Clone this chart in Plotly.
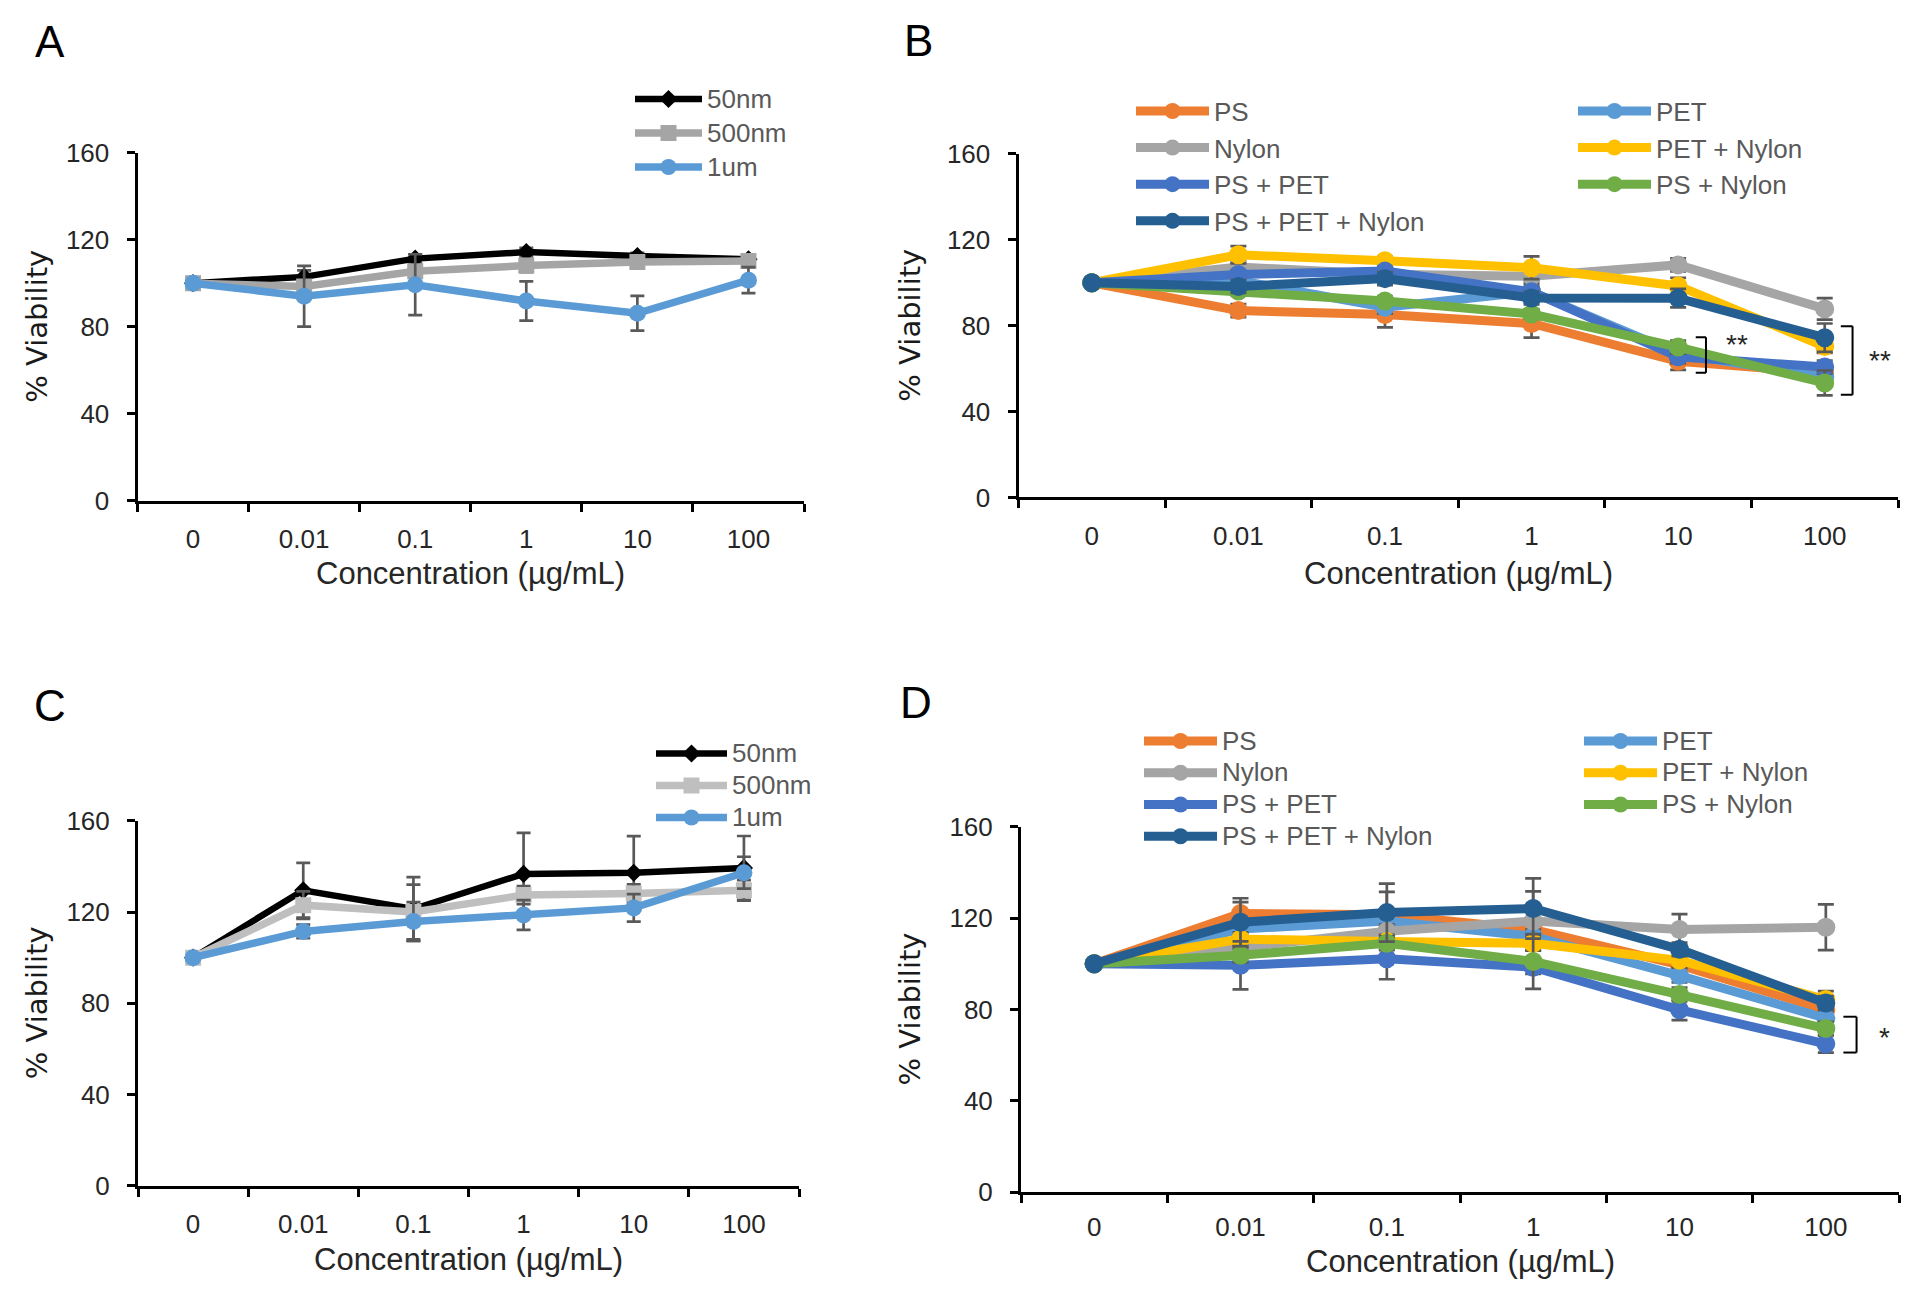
import plotly.graph_objects as go

# ---------------- data ----------------
categories = ["0", "0.01", "0.1", "1", "10", "100"]
y_ticks = [0, 40, 80, 120, 160]

size_names = ["50nm", "500nm", "1um"]

# Panel A
a_50nm = [100, 102.9, 111.3, 114.3, 112.5, 111.0]
a_50nm_err = [0, 3, 2, 2, 1.5, 1]
a_500nm = [100, 98.5, 105.5, 108.1, 109.8, 110.2]
a_500nm_err = [0, 2, 2, 3, 2, 2]
a_1um = [100, 94.0, 99.3, 91.8, 86.2, 101.4]
a_1um_err = [0, 14, 14, 9, 8, 6]

# Panel C
c_50nm = [100, 129.5, 121.3, 136.7, 137.2, 139.3]
c_50nm_err = [0, 12, 14, 18, 16, 14]
c_500nm = [100, 123.0, 120.0, 127.4, 128.1, 129.5]
c_500nm_err = [0, 6, 12, 4, 4, 4.5]
c_1um = [100, 111.5, 115.8, 118.7, 121.8, 137.2]
c_1um_err = [0, 3, 8.5, 6.5, 6, 7]

plastic_names = ["PS", "PET", "Nylon", "PET + Nylon", "PS + PET", "PS + Nylon", "PS + PET + Nylon"]

# Panel B
b_ps = [100, 87.0, 85.2, 81.0, 63.4, 58.0]
b_ps_err = [0, 3, 6, 6.6, 4, 3]
b_pet = [100, 101.0, 88.6, 95.8, 67.0, 56.0]
b_pet_err = [0, 3, 3, 3, 3, 3]
b_nylon = [100, 107.3, 104.0, 103.0, 108.3, 87.8]
b_nylon_err = [0, 3, 3, 3, 3, 5]
b_pet_nylon = [100, 113.0, 110.2, 107.0, 98.5, 70.3]
b_pet_nylon_err = [0, 4, 2, 5.3, 3.8, 3]
b_ps_pet = [100, 103.8, 105.4, 95.8, 65.5, 60.7]
b_ps_pet_err = [0, 2, 2, 2, 3, 3]
b_ps_nylon = [100, 96.1, 91.5, 85.4, 70.0, 53.3]
b_ps_nylon_err = [0, 2, 2, 2, 3, 5.8]
b_all = [100, 98.2, 101.9, 92.9, 92.8, 74.4]
b_all_err = [0, 3, 3, 3, 4.3, 6.6]

# Panel D
d_ps = [100, 122.0, 121.5, 115.0, 99.5, 79.8]
d_ps_err = [0, 5, 10, 4, 3, 3]
d_pet = [100, 115.2, 118.7, 112.0, 94.8, 76.1]
d_pet_err = [0, 3, 3, 3, 3, 3]
d_nylon = [100, 107.5, 114.2, 118.7, 115.0, 116.0]
d_nylon_err = [0, 3, 3, 13, 6.7, 10]
d_pet_nylon = [100, 110.8, 109.7, 109.0, 101.5, 84.3]
d_pet_nylon_err = [0, 3, 3, 3, 3, 3.7]
d_ps_pet = [100, 99.3, 102.2, 98.5, 79.8, 64.9]
d_ps_pet_err = [0, 10.5, 9, 3, 4.5, 3.8]
d_ps_nylon = [100, 103.7, 109.0, 101.0, 86.5, 71.6]
d_ps_nylon_err = [0, 3, 3, 12, 3, 3]
d_all = [100, 118.2, 122.4, 124.2, 106.3, 82.8]
d_all_err = [0, 10.5, 12.7, 13.2, 3, 3]

# significance brackets: (panel, x_left, x_right, y_top, y_bottom, label, label_x, label_y)
brackets = [
    ("B", 4.12, 4.19, 74.6, 58.1, "**", 4.40, 71.0),
    ("B", 5.11, 5.19, 79.7, 47.8, "**", 5.38, 64.0),
    ("D", 5.12, 5.21, 76.8, 61.1, "*", 5.40, 67.5),
]

# ---------------- style ----------------
W, H = 1915, 1294
ERR_COLOR = "#595959"
TICK_FONT = dict(family="Liberation Sans, Arial, sans-serif", size=26, color="#262626")
LEG_COLOR = "#595959"


def px_x(v):
    return v / W


def px_y(v):
    return 1 - v / H


def leg_name(label, glyph):
    return '<span style="font-size:%dpx">%s</span>' % (glyph, label)


fig = go.Figure()


def add_series(xa, ya, legend, name, values, errors, color, symbol, msize, lw, capw, glyph):
    fig.add_trace(go.Scatter(
        x=categories, y=values, name=leg_name(name, glyph),
        xaxis=xa, yaxis=ya, legend=legend,
        mode="lines+markers",
        line=dict(color=color, width=lw),
        marker=dict(color=color, symbol=symbol, size=msize, line=dict(width=0)),
        error_y=dict(type="data", array=errors, visible=True,
                     color=ERR_COLOR, thickness=2.7, width=capw),
        hoverinfo="skip",
    ))


# Panel A
add_series("x", "y", "legend", size_names[0], a_50nm, a_50nm_err, "#000000", "diamond", 14, 6.5, 7, 26)
add_series("x", "y", "legend", size_names[1], a_500nm, a_500nm_err, "#A5A5A5", "square", 16, 7.5, 7, 26)
add_series("x", "y", "legend", size_names[2], a_1um, a_1um_err, "#5B9BD5", "circle", 17, 7.5, 7, 26)

# Panels B and D (Excel series order)
b_vals = [b_ps, b_pet, b_nylon, b_pet_nylon, b_ps_pet, b_ps_nylon, b_all]
b_errs = [b_ps_err, b_pet_err, b_nylon_err, b_pet_nylon_err, b_ps_pet_err, b_ps_nylon_err, b_all_err]
d_vals = [d_ps, d_pet, d_nylon, d_pet_nylon, d_ps_pet, d_ps_nylon, d_all]
d_errs = [d_ps_err, d_pet_err, d_nylon_err, d_pet_nylon_err, d_ps_pet_err, d_ps_nylon_err, d_all_err]
plastic_colors = ["#ED7D31", "#5B9BD5", "#A5A5A5", "#FFC000", "#4472C4", "#70AD47", "#255E91"]
left_col = {0, 2, 4, 6}

for i, nm in enumerate(plastic_names):
    add_series("x2", "y2", "legend2" if i in left_col else "legend3", nm,
               b_vals[i], b_errs[i], plastic_colors[i], "circle", 19, 9, 8, 26)

# Panel C
add_series("x3", "y3", "legend4", size_names[0], c_50nm, c_50nm_err, "#000000", "diamond", 14, 6.5, 7, 26)
add_series("x3", "y3", "legend4", size_names[1], c_500nm, c_500nm_err, "#BFBFBF", "square", 16, 7.5, 7, 26)
add_series("x3", "y3", "legend4", size_names[2], c_1um, c_1um_err, "#5B9BD5", "circle", 17, 7.5, 7, 26)

for i, nm in enumerate(plastic_names):
    add_series("x4", "y4", "legend5" if i in left_col else "legend6", nm,
               d_vals[i], d_errs[i], plastic_colors[i], "circle", 19, 9, 8, 26)

# ---------------- axes ----------------
panels = {
    # name: (x extent px, y px of 160, y px of 0, x-title offset px, x tick label standoff)
    "A": ((137.5, 804.0), 152.7, 500.7, 73, 13),
    "B": ((1018.5, 1898.0), 153.9, 497.4, 76, 13),
    "C": ((138.0, 799.0), 820.7, 1185.9, 74, 13),
    "D": ((1021.0, 1899.0), 826.8, 1192.0, 69, 10),
}
axis_keys = {"A": ("xaxis", "yaxis", "y", "x"), "B": ("xaxis2", "yaxis2", "y2", "x2"),
             "C": ("xaxis3", "yaxis3", "y3", "x3"), "D": ("xaxis4", "yaxis4", "y4", "x4")}

layout_axes = {}
for p, ((xl, xr), yt, yb, _, xstand) in panels.items():
    xk, yk, yanc, xanc = axis_keys[p]
    layout_axes[xk] = dict(
        domain=[px_x(xl), px_x(xr)], anchor=yanc,
        type="category", categoryorder="array", categoryarray=categories,
        range=[-0.5, 5.5], tickson="boundaries",
        ticks="outside", ticklen=8, tickwidth=2.5, tickcolor="#000000",
        showline=True, linecolor="#000000", linewidth=3,
        showgrid=False, zeroline=False, tickfont=TICK_FONT,
        ticklabelstandoff=xstand, fixedrange=True, automargin=False,
    )
    layout_axes[yk] = dict(
        domain=[px_y(yb), px_y(yt)], anchor=xanc,
        range=[0, 160], tickmode="array", tickvals=y_ticks,
        ticks="outside", ticklen=8, tickwidth=2.5, tickcolor="#000000",
        showline=True, linecolor="#000000", linewidth=3,
        showgrid=False, zeroline=False, tickfont=TICK_FONT,
        ticklabelstandoff=12, fixedrange=True, automargin=False,
    )


# ---------------- legends ----------------
def legend_cfg(line_start_px, first_center_px, spacing_px, itemwidth):
    fs = (spacing_px - 3) / 1.3
    top = first_center_px - 5 - spacing_px / 2
    return dict(
        x=px_x(line_start_px - 5), y=px_y(top), xanchor="left", yanchor="top",
        orientation="v", bgcolor="rgba(0,0,0,0)", borderwidth=0,
        font=dict(family="Liberation Sans, Arial, sans-serif", size=fs, color=LEG_COLOR),
        itemwidth=itemwidth, tracegroupgap=0, traceorder="normal",
        itemclick=False, itemdoubleclick=False,
    )


legends = dict(
    legend=legend_cfg(635, 99, 34, 67),
    legend2=legend_cfg(1136, 111, 36.6, 73),
    legend3=legend_cfg(1578, 111, 36.6, 73),
    legend4=legend_cfg(656, 753.5, 32, 71),
    legend5=legend_cfg(1144, 741, 31.75, 73),
    legend6=legend_cfg(1584, 741, 31.75, 73),
)

# ---------------- annotations ----------------
annotations = []
for letter, (lx, ly) in {"A": (50, 42), "B": (918.5, 40), "C": (50, 705), "D": (916, 702)}.items():
    annotations.append(dict(text=letter, x=px_x(lx), y=px_y(ly), xref="paper", yref="paper",
                            showarrow=False, xanchor="center", yanchor="middle",
                            font=dict(family="Liberation Sans, Arial, sans-serif", size=44, color="#000000")))

xt_font = dict(family="Liberation Sans, Arial, sans-serif", size=31, color="#262626")
yt_font = dict(family="DejaVu Sans, Verdana, sans-serif", size=29, color="#1a1a1a")
for p, ((xl, xr), yt, yb, xoff, _) in panels.items():
    annotations.append(dict(text="Concentration (µg/mL)", x=px_x((xl + xr) / 2), y=px_y(yb + xoff),
                            xref="paper", yref="paper", showarrow=False,
                            xanchor="center", yanchor="middle", font=xt_font))
    ytitle_x = 37 if p in ("A", "C") else 910
    annotations.append(dict(text="% Viability", x=px_x(ytitle_x), y=px_y((yt + yb) / 2),
                            xref="paper", yref="paper", showarrow=False, textangle=-90,
                            xanchor="center", yanchor="middle", font=yt_font))

shapes = []
for panel, x0, x1, ytop, ybot, lab, lx, ly in brackets:
    xr_, yr_ = ("x2", "y2") if panel == "B" else ("x4", "y4")
    ln = dict(color="#000000", width=2)
    shapes.append(dict(type="line", xref=xr_, yref=yr_, x0=x1, x1=x1, y0=ytop, y1=ybot, line=ln))
    shapes.append(dict(type="line", xref=xr_, yref=yr_, x0=x0, x1=x1, y0=ytop, y1=ytop, line=ln))
    shapes.append(dict(type="line", xref=xr_, yref=yr_, x0=x0, x1=x1, y0=ybot, y1=ybot, line=ln))
    annotations.append(dict(text=lab, x=lx, y=ly, xref=xr_, yref=yr_, showarrow=False,
                            xanchor="center", yanchor="middle",
                            font=dict(family="Liberation Sans, Arial, sans-serif", size=28, color="#262626")))

fig.update_layout(
    width=W, height=H,
    margin=dict(l=0, r=0, t=0, b=0, pad=0, autoexpand=False),
    paper_bgcolor="#ffffff", plot_bgcolor="#ffffff",
    showlegend=True, annotations=annotations, shapes=shapes,
    **layout_axes, **legends,
)

fig.write_html("out.html", config={"displayModeBar": False})
